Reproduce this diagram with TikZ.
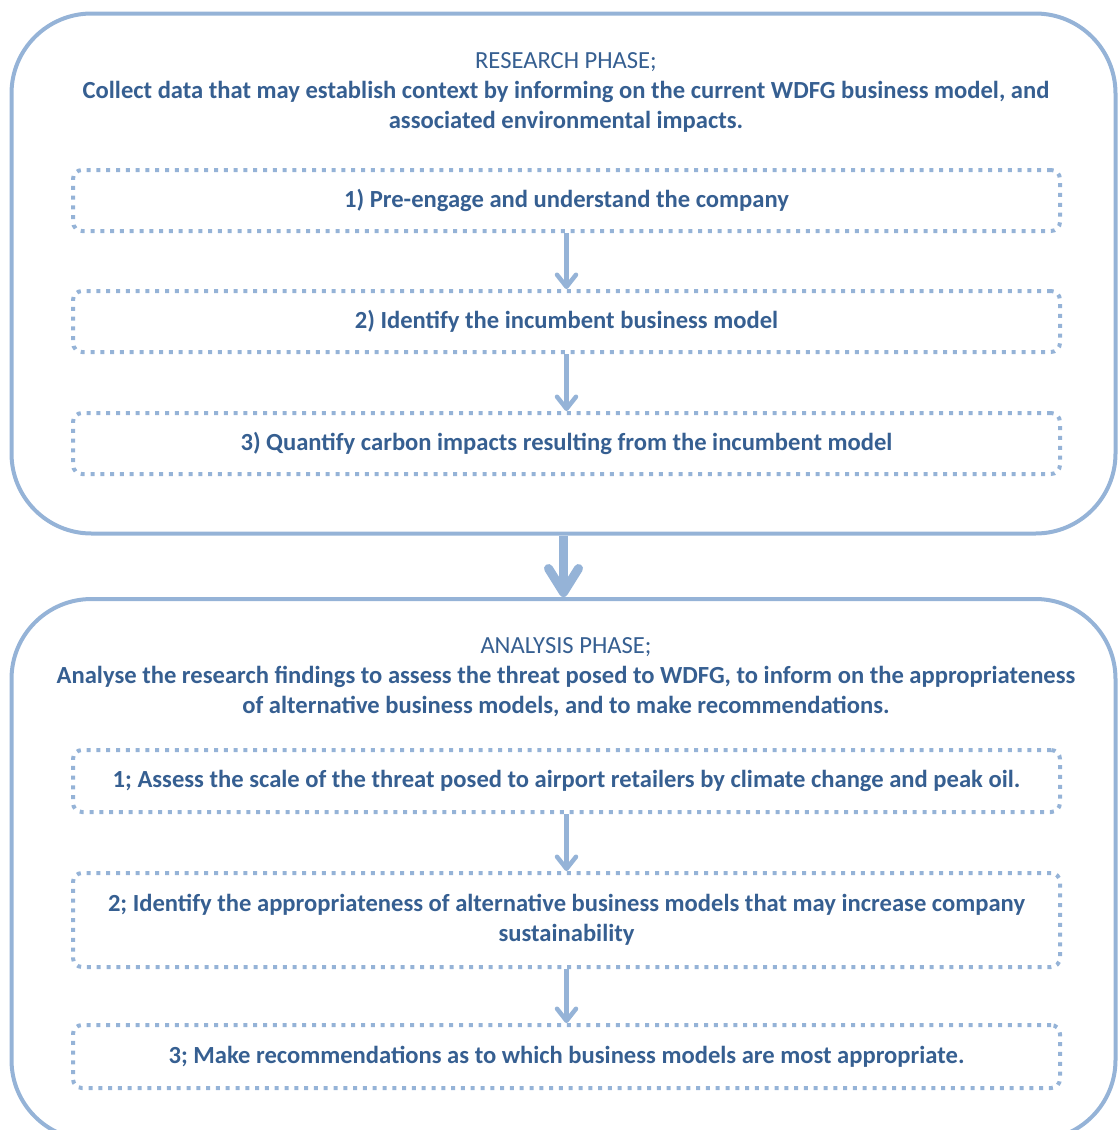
\documentclass[tikz,border=0pt]{standalone}
\usepackage{fontspec}
\setmainfont{Carlito}
\usetikzlibrary{arrows.meta}
\definecolor{frameblue}{HTML}{95B3D7}
\definecolor{textblue}{HTML}{365F91}
\tikzset{
  phasebox/.style={draw=frameblue, line width=4pt, rounded corners=80pt,
    minimum width=1104pt, inner sep=0pt},
  stepbox/.style={draw=frameblue, line width=4pt, dash pattern=on 4pt off 5.8pt,
    rounded corners=9pt, minimum width=987pt, inner sep=0pt, align=center,
    text=textblue, font=\fontsize{24.6}{30}\selectfont\bfseries},
  heading/.style={align=center, text=textblue, inner sep=0pt,
    font=\fontsize{24.6}{30}\selectfont},
  steparrow/.style={draw=frameblue, line width=4.5pt,
    -{Straight Barb[length=12pt,width=19pt,round]}},
  phasearrow/.style={draw=frameblue, line width=9pt,
    -{Straight Barb[length=24pt,width=30pt,round]}}
}
\begin{document}
\begin{tikzpicture}[x=1pt,y=-1pt]
\useasboundingbox (0,0) rectangle (1119,1130);

% Research phase
\node[phasebox, minimum height=520pt] (research) at (563.5,273.5) {};
\node[heading] (rhead) at (566,92)
  {RESEARCH PHASE;\\
   \textbf{Collect data that may establish context by informing on the current WDFG business model, and}\\
   \textbf{associated environmental impacts.}};
\node[stepbox, minimum height=61pt] (r1) at (566.5,200.5) {1) Pre-engage and understand the company};
\node[stepbox, minimum height=61pt] (r2) at (566.5,321.5) {2) Identify the incumbent business model};
\node[stepbox, minimum height=61pt] (r3) at (566.5,443.5) {3) Quantify carbon impacts resulting from the incumbent model};

% Analysis phase
\node[phasebox, minimum height=541pt] (analysis) at (563.5,869.5) {};
\node[heading] (ahead) at (566,677)
  {ANALYSIS PHASE;\\
   \textbf{Analyse the research findings to assess the threat posed to WDFG, to inform on the appropriateness}\\
   \textbf{of alternative business models, and to make recommendations.}};
\node[stepbox, minimum height=62pt] (a1) at (566.5,781) {1; Assess the scale of the threat posed to airport retailers by climate change and peak oil.};
\node[stepbox, minimum height=94pt] (a2) at (566.5,920) {2; Identify the appropriateness of alternative business models that may increase company\\ sustainability};
\node[stepbox, minimum height=63pt] (a3) at (566.5,1056.5) {3; Make recommendations as to which business models are most appropriate.};

% Connectors
\draw[steparrow] (r1.south) -- (r2.north);
\draw[steparrow] (r2.south) -- (r3.north);
\draw[phasearrow] (research.south) -- (analysis.north);
\draw[steparrow] (a1.south) -- (a2.north);
\draw[steparrow] (a2.south) -- (a3.north);
\end{tikzpicture}
\end{document}
